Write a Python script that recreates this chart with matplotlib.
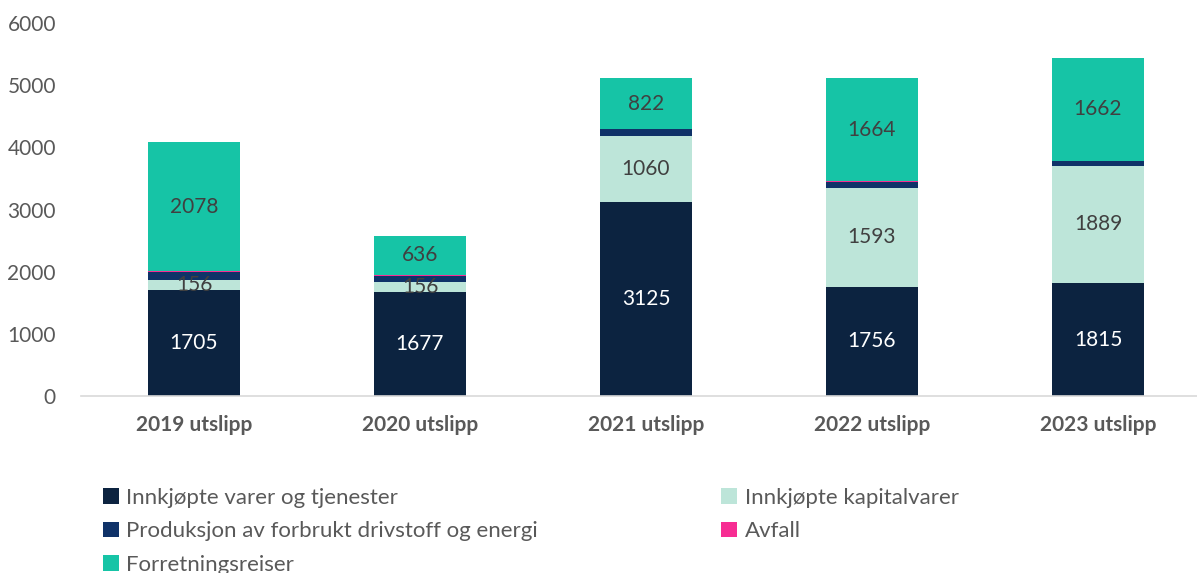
import matplotlib.pyplot as plt
import numpy as np
from matplotlib.patches import Patch

plt.rcParams['font.family'] = ['Lato', 'DejaVu Sans']

categories = ["2019 utslipp", "2020 utslipp", "2021 utslipp", "2022 utslipp", "2023 utslipp"]
varer = [1705, 1677, 3125, 1756, 1815]
kapital = [156, 156, 1060, 1593, 1889]
produksjon = [140, 105, 105, 100, 75]
avfall = [3, 5, 3, 3, 3]
reiser = [2078, 636, 822, 1664, 1662]

series = [
    ("Innkjøpte varer og tjenester", varer, "#0c2340", "white", True),
    ("Innkjøpte kapitalvarer", kapital, "#bde5d9", "#404040", True),
    ("Produksjon av forbrukt drivstoff og energi", produksjon, "#0f3268", None, False),
    ("Avfall", avfall, "#f72d93", None, False),
    ("Forretningsreiser", reiser, "#16c4a6", "#404040", True),
]

fig = plt.figure(figsize=(11.97, 5.73), dpi=100)
ax = fig.add_axes([81 / 1197, 1 - 396 / 573, 1 - 81 / 1197, (396 - 23) / 573])

x = np.arange(len(categories))
width = 0.405
bottom = np.zeros(len(categories))
for name, vals, color, tcol, show in series:
    vals = np.array(vals, dtype=float)
    ax.bar(x, vals, width, bottom=bottom, color=color, label=name, zorder=2)
    if show:
        for xi, b, v in zip(x, bottom, vals):
            ax.text(xi, b + v / 2, f"{int(v)}", ha="center", va="center",
                    color=tcol, fontsize=15)
    bottom += vals

ax.set_ylim(0, 6000)
ax.set_xlim(-0.5, (1197 - 81) / 226 - 0.5)
ax.set_yticks(range(0, 6001, 1000))
ax.set_xticks(x)
ax.set_xticklabels(categories, fontsize=15, fontweight="bold", color="#595959")
ax.tick_params(axis="y", labelsize=15, labelcolor="#595959", length=0, pad=18)
ax.tick_params(axis="x", length=0, pad=14)
for s in ["top", "right", "left"]:
    ax.spines[s].set_visible(False)
ax.spines["bottom"].set_color("#d9d9d9")
ax.spines["bottom"].set_linewidth(1.2)

# row-major layout in two columns -> column-major order for matplotlib
order = [0, 2, 4, 1, 3]
handles = [Patch(facecolor=series[i][2]) for i in order]
labels = [series[i][0] for i in order]
leg = fig.legend(handles, labels, loc="upper left", bbox_to_anchor=(103 / 1197, 1 - 488 / 573),
                 ncol=2, frameon=False, fontsize=16, handlelength=0.7, handleheight=0.7,
                 handletextpad=0.35, columnspacing=8.25, labelspacing=0.6, borderaxespad=0,
                 borderpad=0)
for t in leg.get_texts():
    t.set_color("#595959")

fig.savefig("out.png", dpi=100)
